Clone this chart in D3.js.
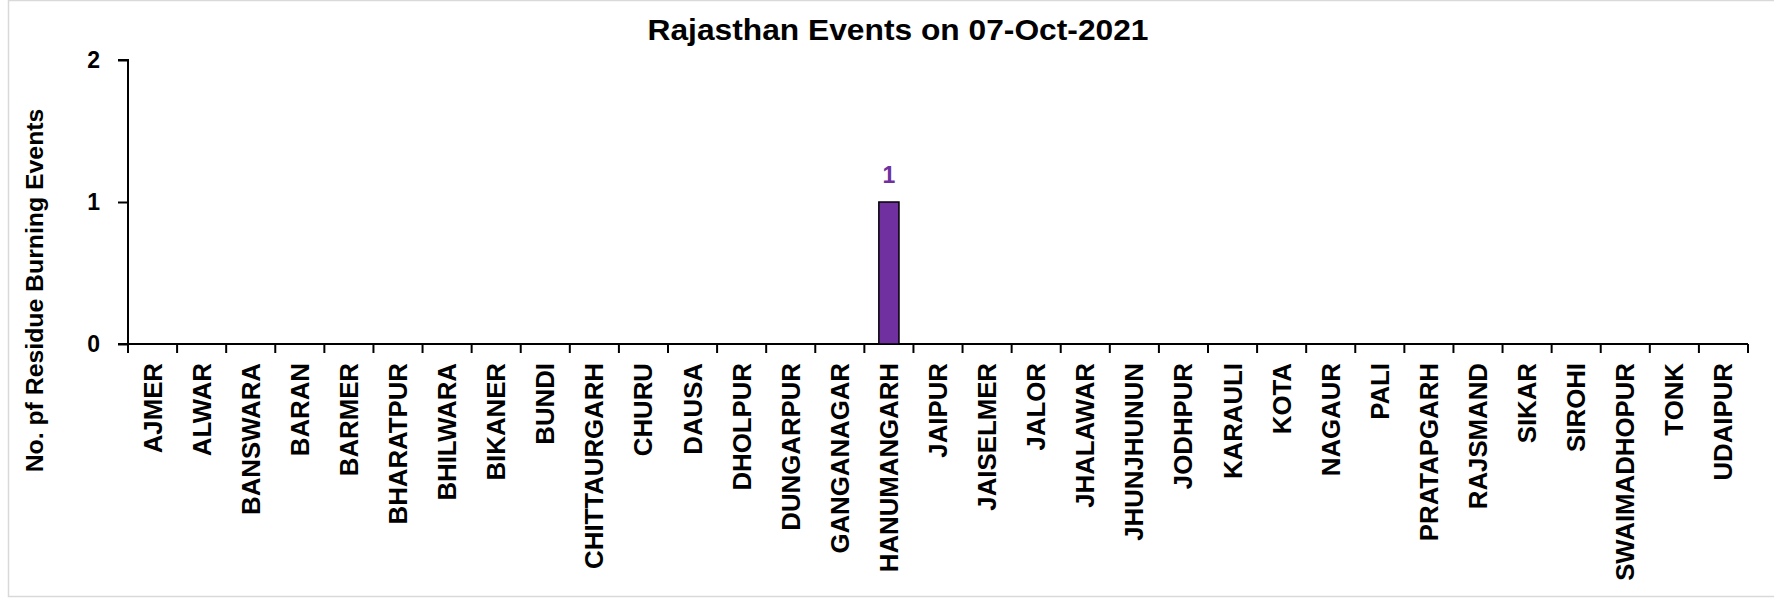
<!DOCTYPE html>
<html>
<head>
<meta charset="utf-8">
<script src="https://cdn.jsdelivr.net/npm/d3@7"></script>
<style>
  html, body { margin: 0; padding: 0; background: #fff; }
  svg { display: block; }
</style>
</head>
<body>
<div id="chart"></div>
<script>
// data
const districts = ['AJMER', 'ALWAR', 'BANSWARA', 'BARAN', 'BARMER', 'BHARATPUR', 'BHILWARA', 'BIKANER',
    'BUNDI', 'CHITTAURGARH', 'CHURU', 'DAUSA', 'DHOLPUR', 'DUNGARPUR', 'GANGANAGAR', 'HANUMANGARH',
    'JAIPUR', 'JAISELMER', 'JALOR', 'JHALAWAR', 'JHUNJHUNUN', 'JODHPUR', 'KARAULI', 'KOTA', 'NAGAUR',
    'PALI', 'PRATAPGARH', 'RAJSMAND', 'SIKAR', 'SIROHI', 'SWAIMADHOPUR', 'TONK', 'UDAIPUR'];
const events = [0, 0, 0, 0, 0, 0, 0, 0, 0, 0, 0, 0, 0, 0, 0, 1, 0, 0, 0, 0, 0, 0, 0, 0, 0, 0, 0, 0, 0, 0, 0, 0, 0];
const yTicks = [0, 1, 2];

const chartData = districts.map((d, i) => ({ label: d, value: events[i] }));

const W = 1774, H = 603;
const font = "'Liberation Sans', Arial, sans-serif";
const margin = { top: 60, right: 26, bottom: 259, left: 128 };
const width = W - margin.left - margin.right;
const height = H - margin.top - margin.bottom;

const root = d3.select('#chart').append('svg')
    .attr('width', W)
    .attr('height', H);

// chart border (right edge runs off the picture)
root.append('rect')
    .attr('x', 8.5).attr('y', 0.5)
    .attr('width', 1772).attr('height', 596)
    .attr('fill', '#fff')
    .attr('stroke', '#d9d9d9')
    .attr('stroke-width', 1.5);

// title
root.append('text')
    .attr('x', 898).attr('y', 40)
    .attr('text-anchor', 'middle')
    .attr('textLength', 501)
    .attr('lengthAdjust', 'spacingAndGlyphs')
    .style('font-family', font)
    .style('font-weight', 'bold')
    .style('font-size', '30px')
    .text('Rajasthan Events on 07-Oct-2021');

// y axis title
root.append('text')
    .attr('transform', 'translate(43, 290.5) rotate(-90)')
    .attr('text-anchor', 'middle')
    .style('font-family', font)
    .style('font-weight', 'bold')
    .style('font-size', '24.8px')
    .text('No. pf Residue Burning Events');

const svg = root.append('g')
    .attr('transform', `translate(${margin.left}, ${margin.top})`);

const x = d3.scaleBand()
    .domain(districts)
    .range([0, width])
    .paddingInner(0.59)
    .paddingOuter(0.295);

const y = d3.scaleLinear()
    .domain([0, 2])
    .range([height, 0]);

// x axis with ticks at band edges
const xAxis = svg.append('g')
    .attr('transform', `translate(0, ${height})`);
xAxis.append('line')
    .attr('x1', -10).attr('x2', width)
    .attr('stroke', '#000').attr('stroke-width', 2);
const step = x.step();
xAxis.selectAll('.tk')
    .data(d3.range(districts.length + 1))
    .enter()
    .append('line')
    .attr('x1', i => i * step).attr('x2', i => i * step)
    .attr('y1', 0).attr('y2', 9)
    .attr('stroke', '#000').attr('stroke-width', 2);
xAxis.selectAll('.lbl')
    .data(districts)
    .enter()
    .append('text')
    .attr('transform', d => `translate(${x(d) + x.bandwidth() / 2}, 19) rotate(-90)`)
    .attr('dy', '0.35em')
    .attr('text-anchor', 'end')
    .style('font-family', font)
    .style('font-weight', 'bold')
    .style('font-size', '25.8px')
    .text(d => d);

// y axis
svg.append('g')
    .call(d3.axisLeft(y).tickValues(yTicks).tickFormat(d3.format('d')).tickSize(10).tickPadding(18))
    .call(g => g.selectAll('path, line').attr('stroke', '#000').attr('stroke-width', 2))
    .call(g => g.select('.domain').attr('d', `M-10,0H0V${height}`))
    .selectAll('text')
    .attr('fill', '#000')
    .style('font-family', font)
    .style('font-weight', 'bold')
    .style('font-size', '23px');

// bars
svg.selectAll('.bar')
    .data(chartData.filter(d => d.value > 0))
    .enter()
    .append('rect')
    .attr('x', d => x(d.label))
    .attr('y', d => y(d.value))
    .attr('width', x.bandwidth())
    .attr('height', d => height - y(d.value))
    .attr('fill', '#7030a0')
    .attr('stroke', '#000')
    .attr('stroke-width', 1.5);

// value labels
svg.selectAll('.val')
    .data(chartData.filter(d => d.value > 0))
    .enter()
    .append('text')
    .attr('x', d => x(d.label) + x.bandwidth() / 2)
    .attr('y', d => y(d.value) - 19.5)
    .attr('text-anchor', 'middle')
    .attr('fill', '#7030a0')
    .style('font-family', font)
    .style('font-weight', 'bold')
    .style('font-size', '23px')
    .text(d => d.value);
</script>
</body>
</html>
